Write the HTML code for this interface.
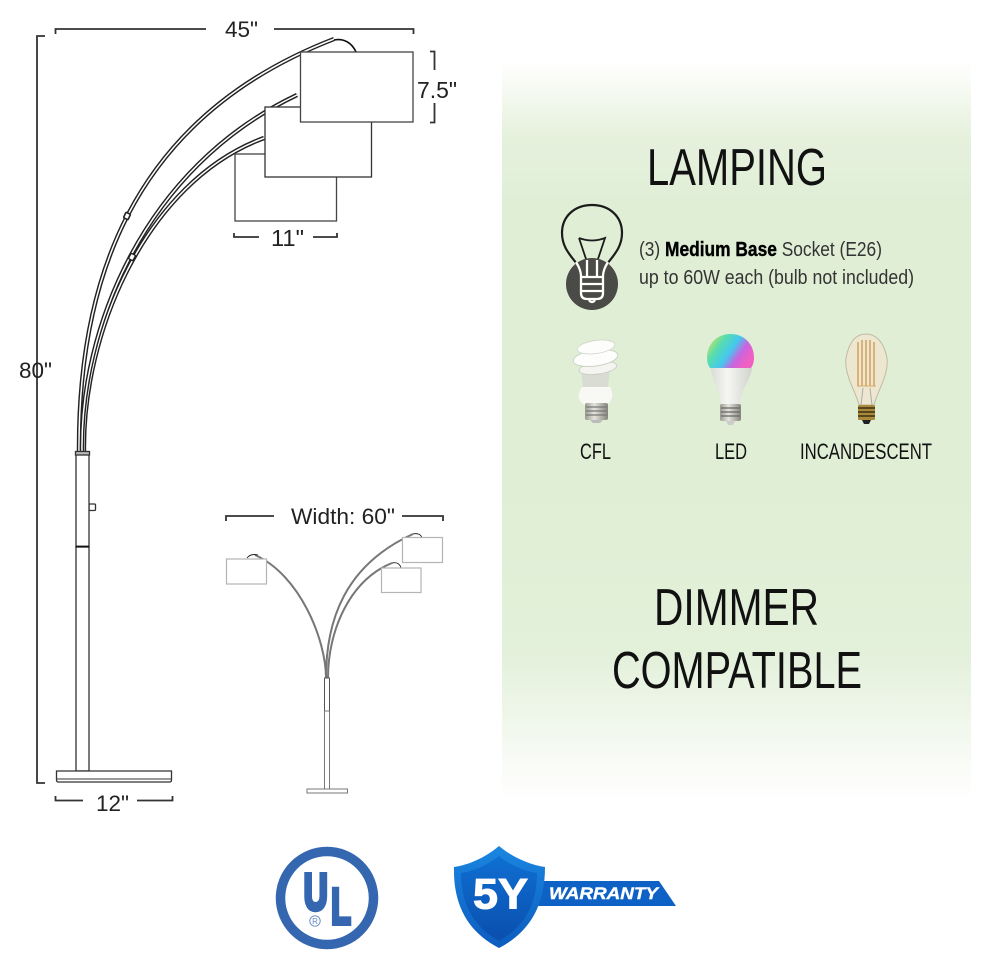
<!DOCTYPE html>
<html><head><meta charset="utf-8"><style>
html,body{margin:0;padding:0;background:#fff;width:990px;height:968px;overflow:hidden}
svg{display:block}
text{font-family:"Liberation Sans",sans-serif;fill:#222}
.n{font-family:"Liberation Sans Narrow","Liberation Sans",sans-serif;fill:#111}
.d{fill:none;stroke:#333;stroke-width:1.8}
.shade{fill:#fff;stroke:#444;stroke-width:1.3}
</style></head><body>
<svg width="990" height="968" viewBox="0 0 990 968" xmlns="http://www.w3.org/2000/svg">
<defs>
<linearGradient id="bg" x1="0" y1="62" x2="0" y2="800" gradientUnits="userSpaceOnUse">
<stop offset="0" stop-color="#ffffff"/><stop offset="0.03" stop-color="#f8fbf5"/><stop offset="0.1" stop-color="#e6f1dd"/><stop offset="0.2" stop-color="#e0eed6"/><stop offset="0.5" stop-color="#dfeed4"/><stop offset="0.8" stop-color="#e3f0da"/><stop offset="0.88" stop-color="#eef6e9"/><stop offset="0.96" stop-color="#fafcf8"/><stop offset="1" stop-color="#ffffff"/>
</linearGradient>
<linearGradient id="led" x1="0" y1="0" x2="1" y2="0.5"><stop offset="0" stop-color="#f3e640"/><stop offset="0.35" stop-color="#56dcb0"/><stop offset="0.6" stop-color="#45c8ee"/><stop offset="0.8" stop-color="#c765e0"/><stop offset="1" stop-color="#ef5fc4"/></linearGradient>
<linearGradient id="ledb" x1="0" y1="0" x2="1" y2="0"><stop offset="0" stop-color="#d9dcd6"/><stop offset="0.4" stop-color="#f6f7f4"/><stop offset="1" stop-color="#cfd2cc"/></linearGradient>
<linearGradient id="sh" x1="0" y1="0" x2="0" y2="1"><stop offset="0" stop-color="#1a86e0"/><stop offset="1" stop-color="#0d5cbf"/></linearGradient>
<linearGradient id="sh2" x1="0" y1="0" x2="0" y2="1"><stop offset="0" stop-color="#0f6fd2"/><stop offset="1" stop-color="#0a4fae"/></linearGradient>
<linearGradient id="metal" x1="0" y1="0" x2="1" y2="0"><stop offset="0" stop-color="#9a9a90"/><stop offset="0.4" stop-color="#e4e4dc"/><stop offset="1" stop-color="#85857c"/></linearGradient>
</defs>
<rect x="502" y="62" width="469" height="738" fill="url(#bg)"/>

<!-- large lamp arms -->
<g fill="none" stroke-linecap="butt">
<path d="M79 452C78 290 125 120 334 39" stroke="#222" stroke-width="4.4"/>
<path d="M79 452C78 290 125 120 334 39" stroke="#fff" stroke-width="1.5"/>
<path d="M84 452C82 335 145 182 264 138" stroke="#222" stroke-width="4.4"/>
<path d="M84 452C82 335 145 182 264 138" stroke="#fff" stroke-width="1.5"/>
<path d="M82 452C80 330 143 168 297 95" stroke="#222" stroke-width="4.4"/>
<path d="M82 452C80 330 143 168 297 95" stroke="#fff" stroke-width="1.5"/>
<path d="M334 40C344 38 352 43 356 52" stroke="#111" stroke-width="1.6"/>
</g>
<rect x="124.500" y="213" width="5" height="6" rx="1" fill="#fff" stroke="#222" stroke-width="1.600" transform="rotate(25 127 216)"/>
<rect x="129.500" y="254" width="5" height="6" rx="1" fill="#fff" stroke="#222" stroke-width="1.400" transform="rotate(28 132 257)"/>
<rect class="shade" x="235" y="154" width="101.500" height="67"/>
<rect class="shade" x="265" y="107" width="106.500" height="70" style="stroke:#333"/>
<rect class="shade" x="300.500" y="52" width="112.500" height="70"/>

<!-- pole -->
<g fill="#fff" stroke="#333" stroke-width="1.300">
<rect x="89" y="504" width="6.500" height="6.500" rx="1"/>
<rect x="76" y="453" width="13" height="94"/>
<rect x="76" y="547" width="13" height="224"/>
<rect x="75.500" y="451.500" width="14" height="3.500" fill="#bbb"/>
<path d="M56.500 771H171.500V780Q171.500 782 169.500 782H58.500Q56.500 782 56.500 780Z"/>
<path d="M57 779H171" fill="none" stroke-width="1"/>
</g>
<path d="M76 546.500H89" stroke="#111" stroke-width="1.800"/>

<!-- dimension lines -->
<path class="d" d="M55.500 34V29H206M274 29H413.500V34"/>
<path class="d" d="M45 36H37V783H45"/>
<path class="d" d="M430 51.500H434.500V70M434.500 103V122.500H430"/>
<path class="d" d="M234 233V237H259M313 237H337V233"/>
<path class="d" d="M55.500 796V800.500H83M137 800.500H172.500V796"/>
<path class="d" d="M226 521V516H274M402 516H443V521"/>

<text x="225" y="37" font-size="22" textLength="33" lengthAdjust="spacingAndGlyphs">45"</text>
<text x="417" y="98" font-size="23" textLength="40" lengthAdjust="spacingAndGlyphs">7.5"</text>
<text x="271" y="246" font-size="23" textLength="33" lengthAdjust="spacingAndGlyphs">11"</text>
<text x="19" y="378" font-size="22" textLength="33" lengthAdjust="spacingAndGlyphs">80"</text>
<text x="96" y="811" font-size="22" textLength="33" lengthAdjust="spacingAndGlyphs">12"</text>
<text x="291" y="524" font-size="22" textLength="104" lengthAdjust="spacingAndGlyphs">Width: 60"</text>

<!-- small lamp -->
<g fill="none" stroke="#777" stroke-width="2">
<path d="M326 678C326 640 300 575 255 555"/>
<path d="M326 678C326 620 345 565 413 534"/>
<path d="M328 678C328 630 350 580 392 563"/>
</g>
<g fill="none" stroke="#222" stroke-width="0.900">
<path d="M247 558C250 554 254 554 258 555"/>
<path d="M413 534C417 533 421 534 422 538"/>
<path d="M392 563C397 562 400 564 401 568"/>
</g>
<g fill="#fff" stroke="#b4b4b4" stroke-width="1.200">
<rect x="226.500" y="559" width="40" height="25"/>
<rect x="402.500" y="537.500" width="40" height="25"/>
<rect x="381.500" y="568" width="39.500" height="24.500"/>
</g>
<g fill="#fff" stroke="#777" stroke-width="1">
<rect x="324.500" y="678" width="5" height="33" stroke="#555"/>
<rect x="324.500" y="711" width="5" height="78"/>
<rect x="307" y="789" width="40.500" height="4"/>
</g>

<!-- panel text -->
<text class="n" x="647" y="185" font-size="52" textLength="180" lengthAdjust="spacingAndGlyphs">LAMPING</text>
<text class="n" x="654" y="625" font-size="52" textLength="165" lengthAdjust="spacingAndGlyphs">DIMMER</text>
<text class="n" x="612" y="688" font-size="52" textLength="250" lengthAdjust="spacingAndGlyphs">COMPATIBLE</text>

<!-- bulb icon -->
<path d="M577 264C570 255 562 247 562 233C562 216 575 205 592 205C609 205 622 216 622 233C622 247 614 255 607 264" fill="none" stroke="#1c1c1c" stroke-width="2.200"/>
<path d="M579 238Q592 243 605 238L597 262M579 238L587 262" fill="none" stroke="#1c1c1c" stroke-width="1.800"/>
<circle cx="592" cy="284" r="26" fill="#4a4a46"/>
<g fill="none" stroke="#fff" stroke-width="2.300">
<path d="M576 262Q581 270 581 276V293Q581 299 587 299H597Q603 299 603 293V276Q603 270 608 262"/>
<path d="M587 260V277M597 260V277M581 277H603M581 284H603M581 291H603"/>
<path d="M589 300Q592 304 595 300"/>
</g>

<text class="n" x="639" y="256" font-size="20" textLength="243" lengthAdjust="spacingAndGlyphs" style="fill:#333">(3) <tspan style="font-weight:bold;fill:#000;stroke:#000;stroke-width:.4">Medium Base</tspan> Socket (E26)</text>
<text class="n" x="639" y="284" font-size="20" textLength="275" lengthAdjust="spacingAndGlyphs" style="fill:#333">up to 60W each (bulb not included)</text>

<!-- CFL -->
<g>
<path d="M583 388L581 368H610L608 388Z" fill="#d9dcd2"/>
<path d="M582 387H610Q613 392 612 398Q610 404 606 405H585Q581 404 579 398Q578 392 582 387Z" fill="#f8f9f5"/>
<rect x="585" y="403" width="23" height="17" rx="2" fill="url(#metal)"/>
<path d="M586 407H607M586 411H607M586 415H607" stroke="#777" stroke-width="1.200"/>
<path d="M590 420H603L600 423H593Z" fill="#bbb"/>
<ellipse cx="598" cy="368" rx="19" ry="6" fill="#f4f5f1" stroke="#c8ccc2" stroke-width="0.800" transform="rotate(-8 598 368)"/>
<ellipse cx="595.500" cy="358" rx="22.500" ry="8" fill="#fdfdfb" stroke="#c8ccc2" stroke-width="0.800" transform="rotate(-8 595.500 358)"/>
<ellipse cx="596" cy="347" rx="19" ry="6.500" fill="#fdfdfb" stroke="#d2d5cc" stroke-width="0.800" transform="rotate(-8 596 347)"/>
</g>
<!-- LED -->
<g>
<path d="M711 368C712 382 721 390 721 404H740C740 390 750 382 752 368Z" fill="url(#ledb)"/>
<path d="M707 358C707 343 718 334 730.500 334C743 334 754 343 754 358C754 362 753 365 751 368H710C708 365 707 362 707 358Z" fill="url(#led)"/>
<rect x="720" y="404" width="21" height="17" rx="2" fill="url(#metal)"/>
<path d="M721 408H740M721 412H740M721 416H740" stroke="#666" stroke-width="1.200"/>
<path d="M726 421H735L733 425H728Z" fill="#ccc"/>
</g>
<!-- Edison -->
<g>
<path d="M866 334C856 334 849 342 846 358C844 375 856 392 859 405H874C877 392 889 375 887 358C884 342 876 334 866 334Z" fill="#eee7d0" stroke="#c0bba4" stroke-width="1"/>
<path d="M858 342V386M862 340V386M866 340V386M870 340V386M874 342V386" stroke="#d4a05c" stroke-width="1.500" fill="none"/>
<path d="M857 386H876" stroke="#d6aa68" stroke-width="1"/>
<path d="M863 388L861 405M870 388L872 405" stroke="#aaa" stroke-width="1"/>
<rect x="858" y="405" width="17" height="15" rx="1" fill="#a98a3c"/>
<path d="M858 408H875M858 412H875M858 416H875" stroke="#3d3014" stroke-width="1.400"/>
<path d="M862 420H871L869 424H864Z" fill="#222"/>
</g>
<text class="n" x="580" y="459" font-size="22" textLength="31" lengthAdjust="spacingAndGlyphs">CFL</text>
<text class="n" x="715" y="459" font-size="22" textLength="32" lengthAdjust="spacingAndGlyphs">LED</text>
<text class="n" x="800" y="459" font-size="22" textLength="132" lengthAdjust="spacingAndGlyphs">INCANDESCENT</text>

<!-- UL -->
<circle cx="327" cy="898" r="46.500" fill="#fff" stroke="#3567b0" stroke-width="9.500"/>
<text x="303.700" y="909.500" font-size="51" font-weight="bold" textLength="24" lengthAdjust="spacingAndGlyphs" style="fill:#3567b0;stroke:#3567b0;stroke-width:4.500">U</text>
<text x="331" y="924" font-size="51" font-weight="bold" textLength="20" lengthAdjust="spacingAndGlyphs" style="fill:#3567b0;stroke:#3567b0;stroke-width:4">L</text>
<circle cx="315" cy="921" r="5.200" fill="#fff" stroke="#5f86c2" stroke-width="0.900"/>
<text x="315" y="924" font-size="8" text-anchor="middle" style="fill:#5f86c2">R</text>

<!-- Warranty -->
<path d="M543 881H659L676 906H538Z" fill="#0e62c6"/>
<path d="M499 846C512 857 530 865 545 867C545 905 530 932 499 948C468 932 453 905 454 867C469 865 486 857 499 846Z" fill="url(#sh)"/>
<path d="M499 856C510 865 524 871 537 873C537 905 524 927 499 941C474 927 461 905 461 873C474 871 488 865 499 856Z" fill="url(#sh2)"/>
<text x="473" y="908.500" font-size="43" font-weight="bold" textLength="55" lengthAdjust="spacingAndGlyphs" style="fill:#fff;stroke:#fff;stroke-width:1">5Y</text>
<text x="549" y="899" font-size="16.500" font-weight="bold" font-style="italic" textLength="109" lengthAdjust="spacingAndGlyphs" style="fill:#fff;stroke:#fff;stroke-width:.4">WARRANTY</text>
</svg>
</body></html>
